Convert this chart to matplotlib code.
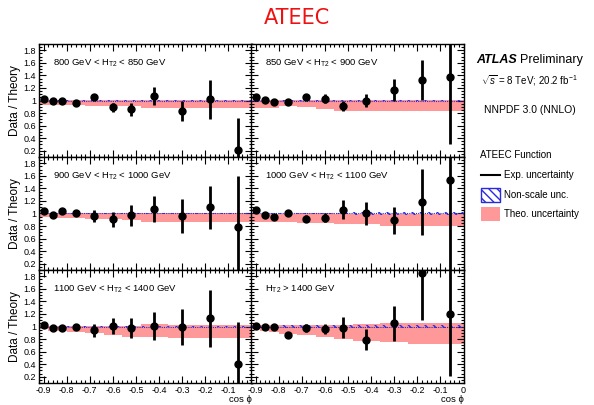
import numpy as np
import matplotlib
matplotlib.use("Agg")
import matplotlib.pyplot as plt
from matplotlib.ticker import MultipleLocator, FixedLocator, FixedFormatter
from matplotlib.patches import Rectangle
from matplotlib.lines import Line2D

plt.rcParams["font.family"] = ["Liberation Sans", "DejaVu Sans"]
plt.rcParams["mathtext.fontset"] = "custom"
plt.rcParams["mathtext.rm"] = "Liberation Sans"
plt.rcParams["mathtext.it"] = "Liberation Sans:italic"
plt.rcParams["axes.unicode_minus"] = False
plt.rcParams["hatch.linewidth"] = 1.0

# cos(phi) binning
bin_edges = [-0.92, -0.88, -0.84, -0.80, -0.72, -0.64, -0.56, -0.48, -0.36, -0.24, -0.12, 0.0]
bin_centers = [-0.90, -0.86, -0.82, -0.76, -0.68, -0.60, -0.52, -0.42, -0.30, -0.18, -0.06]

panel_labels = [
    r"800 GeV < H$_{\mathregular{T2}}$ < 850 GeV",
    r"850 GeV < H$_{\mathregular{T2}}$ < 900 GeV",
    r"900 GeV < H$_{\mathregular{T2}}$ < 1000 GeV",
    r"1000 GeV < H$_{\mathregular{T2}}$ < 1100 GeV",
    r"1100 GeV < H$_{\mathregular{T2}}$ < 1400 GeV",
    r"H$_{\mathregular{T2}}$ > 1400 GeV",
]

# Data / theory ratio and experimental uncertainty per H_T2 slice
ratio_800 = [1.03, 0.99, 1.00, 0.96, 1.06, 0.89, 0.86, 1.07, 0.83, 1.02, 0.21]
err_800 = [0.02, 0.02, 0.02, 0.02, 0.05, 0.07, 0.10, 0.14, 0.16, 0.31, 0.51]
ratio_850 = [1.05, 1.01, 0.98, 0.98, 1.05, 1.03, 0.91, 1.00, 1.17, 1.33, 1.37]
err_850 = [0.02, 0.02, 0.02, 0.03, 0.04, 0.07, 0.08, 0.10, 0.18, 0.32, 1.06]
ratio_900 = [1.04, 0.98, 1.04, 1.00, 0.96, 0.91, 0.97, 1.07, 0.96, 1.10, 0.79]
err_900 = [0.02, 0.02, 0.03, 0.03, 0.09, 0.12, 0.165, 0.21, 0.27, 0.34, 0.81]
ratio_1000 = [1.05, 0.97, 0.94, 1.01, 0.92, 0.93, 1.06, 1.00, 0.89, 1.18, 1.54]
err_1000 = [0.02, 0.02, 0.03, 0.03, 0.05, 0.07, 0.15, 0.18, 0.22, 0.53, 1.50]
ratio_1100 = [1.03, 0.98, 0.98, 0.99, 0.94, 1.01, 0.97, 1.01, 0.99, 1.13, 0.40]
err_1100 = [0.02, 0.02, 0.03, 0.05, 0.10, 0.13, 0.16, 0.22, 0.29, 0.45, 0.67]
ratio_1400 = [1.005, 1.00, 0.99, 0.87, 0.98, 0.96, 0.98, 0.79, 1.05, 1.86, 1.20]
err_1400 = [0.02, 0.03, 0.03, 0.03, 0.06, 0.08, 0.17, 0.17, 0.28, 0.75, 0.99]

# Theory uncertainty band (lower / upper edge)
theo_lo_800 = [0.93, 0.93, 0.93, 0.93, 0.91, 0.91, 0.91, 0.88, 0.88, 0.88, 0.88]
theo_hi_800 = [1.01] * 11
theo_lo_850 = [0.88, 0.88, 0.88, 0.91, 0.89, 0.87, 0.83, 0.83, 0.83, 0.83, 0.83]
theo_hi_850 = [1.01] * 11
theo_lo_900 = [0.94, 0.94, 0.93, 0.93, 0.91, 0.91, 0.89, 0.87, 0.87, 0.86, 0.86]
theo_hi_900 = [1.01] * 11
theo_lo_1000 = [0.87, 0.87, 0.87, 0.87, 0.85, 0.85, 0.83, 0.83, 0.80, 0.80, 0.80]
theo_hi_1000 = [1.00] * 11
theo_lo_1100 = [0.96, 0.93, 0.93, 0.91, 0.89, 0.86, 0.83, 0.83, 0.82, 0.82, 0.82]
theo_hi_1100 = [1.01, 1.01, 1.01, 1.01, 1.01, 1.01, 1.01, 1.04, 1.02, 1.02, 1.02]
theo_lo_1400 = [0.96, 0.93, 0.92, 0.88, 0.86, 0.84, 0.80, 0.77, 0.75, 0.72, 0.72]
theo_hi_1400 = [1.02, 1.02, 1.02, 1.02, 1.02, 1.02, 1.03, 1.04, 1.05, 1.05, 1.05]

# Non-scale uncertainty half-width around unity
nonscale_800 = [0.01] * 11
nonscale_850 = [0.01] * 11
nonscale_900 = [0.01] * 11
nonscale_1000 = [0.01, 0.01, 0.01, 0.012, 0.012, 0.015, 0.015, 0.018, 0.02, 0.025, 0.025]
nonscale_1100 = [0.01] * 11
nonscale_1400 = [0.02, 0.02, 0.02, 0.02, 0.02, 0.02, 0.025, 0.025, 0.025, 0.025, 0.025]

ratios = [ratio_800, ratio_850, ratio_900, ratio_1000, ratio_1100, ratio_1400]
errors = [err_800, err_850, err_900, err_1000, err_1100, err_1400]
theo_lo = [theo_lo_800, theo_lo_850, theo_lo_900, theo_lo_1000, theo_lo_1100, theo_lo_1400]
theo_hi = [theo_hi_800, theo_hi_850, theo_hi_900, theo_hi_1000, theo_hi_1100, theo_hi_1400]
nonscale = [nonscale_800, nonscale_850, nonscale_900, nonscale_1000, nonscale_1100, nonscale_1400]

y_ticks = [0.2, 0.4, 0.6, 0.8, 1.0, 1.2, 1.4, 1.6, 1.8]
y_tick_labels = ["0.2", "0.4", "0.6", "0.8", "1", "1.2", "1.4", "1.6", "1.8"]
x_ticks = [-0.9, -0.8, -0.7, -0.6, -0.5, -0.4, -0.3, -0.2, -0.1, 0.0]
x_tick_labels = ["-0.9", "-0.8", "-0.7", "-0.6", "-0.5", "-0.4", "-0.3", "-0.2", "-0.1", "0"]

PINK = "#ff9999"
HATCH_BLUE = "#2a2adc"

W, H = 594, 405
fig = plt.figure(figsize=(W / 100, H / 100), dpi=100)

col_x = [39, 251]
col_w = 212.5
row_y = [44, 157, 270]
row_h = 113

edges = np.array(bin_edges)
widths = np.diff(edges)
for i in range(6):
    r, c = divmod(i, 2)
    left = col_x[c] / W
    bottom = 1 - (row_y[r] + row_h) / H
    ax = fig.add_axes([left, bottom, col_w / W, row_h / H])
    ax.set_xlim(-0.92, 0.0)
    ax.set_ylim(0.1, 1.9)

    lo = np.array(theo_lo[i])
    hi = np.array(theo_hi[i])
    ax.bar(edges[:-1], hi - lo, bottom=lo, width=widths, align="edge",
           color=PINK, linewidth=0, zorder=1)
    ns = np.array(nonscale[i])
    ax.bar(edges[:-1], 2 * ns, bottom=1 - ns, width=widths, align="edge",
           facecolor="none", edgecolor=HATCH_BLUE, hatch="\\\\\\\\", linewidth=0, zorder=2)
    ax.axhline(1.0, color=HATCH_BLUE, lw=0.8, ls=(0, (1, 1)), zorder=2)

    ax.errorbar(bin_centers, ratios[i], yerr=errors[i], fmt="o", color="black",
                ms=5, elinewidth=2.0, capsize=0, zorder=4)

    ax.text(0.066, 0.83, panel_labels[i], transform=ax.transAxes, fontsize=6.8,
            ha="left", va="center")

    ax.yaxis.set_major_locator(FixedLocator(y_ticks))
    ax.yaxis.set_minor_locator(MultipleLocator(0.05))
    ax.xaxis.set_major_locator(FixedLocator(x_ticks))
    ax.xaxis.set_minor_locator(MultipleLocator(0.02))
    ax.tick_params(which="both", direction="in", top=True, right=True, width=0.8,
                   labelsize=6.5, pad=2, colors="black")
    ax.tick_params(which="major", length=5)
    ax.tick_params(which="minor", length=2.5)
    for s in ax.spines.values():
        s.set_linewidth(1.0)

    if c == 0:
        ax.yaxis.set_major_formatter(FixedFormatter(y_tick_labels))
        ax.set_ylabel("Data / Theory", fontsize=8.5, labelpad=2)
    else:
        ax.set_yticklabels([])
    if r == 2:
        if c == 0:
            ax.xaxis.set_major_formatter(FixedFormatter(x_tick_labels[:-1] + [""]))
        else:
            ax.xaxis.set_major_formatter(FixedFormatter(x_tick_labels))
        ax.text(1.0, -0.15, "cos ϕ", transform=ax.transAxes, fontsize=6.8,
                ha="right", va="center")
    else:
        ax.set_xticklabels([])

# Title
fig.text(297 / W, 1 - 18 / H, "ATEEC", color="#ee1111", fontsize=15,
         ha="center", va="center", family="DejaVu Sans")

# Side annotations
fig.text(476 / W, 1 - 60 / H, "ATLAS", fontsize=9, fontweight="bold",
         fontstyle="italic", ha="left", va="center")
fig.text(520 / W, 1 - 60 / H, "Preliminary", fontsize=9, ha="left", va="center")
fig.text(481 / W, 1 - 81 / H, r"$\sqrt{s}$ = 8 TeV; 20.2 fb$^{-1}$", fontsize=7,
         ha="left", va="center")
fig.text(484 / W, 1 - 110 / H, "NNPDF 3.0 (NNLO)", fontsize=7.5, ha="left", va="center")
fig.text(480 / W, 1 - 155 / H, "ATEEC Function", fontsize=7, ha="left", va="center")

fig.add_artist(Line2D([481 / W, 500 / W], [1 - 175 / H, 1 - 175 / H],
                      color="black", lw=1.5, transform=fig.transFigure))
fig.text(504 / W, 1 - 175 / H, "Exp. uncertainty", fontsize=7, ha="left", va="center")
fig.add_artist(Rectangle((481 / W, 1 - 202 / H), 19 / W, 14 / H, transform=fig.transFigure,
                         facecolor="white", edgecolor=HATCH_BLUE, hatch="\\\\\\\\", lw=1.0))
fig.text(504 / W, 1 - 195 / H, "Non-scale unc.", fontsize=7, ha="left", va="center")
fig.add_artist(Rectangle((481 / W, 1 - 221 / H), 19 / W, 14 / H, transform=fig.transFigure,
                         facecolor=PINK, edgecolor="none"))
fig.text(504 / W, 1 - 214 / H, "Theo. uncertainty", fontsize=7, ha="left", va="center")

fig.savefig("out.png", dpi=100)
